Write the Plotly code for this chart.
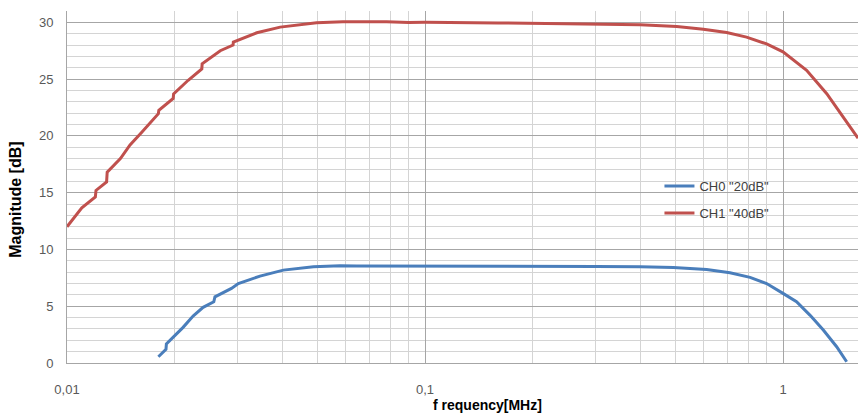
import plotly.graph_objects as go

# ---- data ----
freq_ch0 = [0.0180, 0.0189, 0.01895, 0.0200, 0.0211, 0.0225, 0.0240, 0.0257, 0.0259, 0.0288,
            0.0301, 0.0346, 0.0402, 0.0488, 0.0579, 0.0644, 0.0999, 0.1001, 0.200, 0.300,
            0.399, 0.494, 0.612, 0.711, 0.809, 0.900, 1.000, 1.091, 1.189, 1.296, 1.412, 1.506]
mag_ch0 = [0.55, 1.20, 1.67, 2.37, 3.14, 4.13, 4.90, 5.39, 5.83, 6.57,
           7.00, 7.65, 8.18, 8.47, 8.56, 8.55, 8.55, 8.50, 8.50, 8.50,
           8.47, 8.42, 8.24, 7.94, 7.54, 7.00, 6.13, 5.39, 4.22, 2.90, 1.43, 0.11]

freq_ch1 = [0.0100, 0.0110, 0.0120, 0.01205, 0.0129, 0.01295, 0.0141, 0.0150, 0.0162, 0.0171,
            0.0180, 0.01805, 0.0198, 0.01985, 0.0218, 0.0238, 0.02385, 0.0268, 0.0291, 0.02915,
            0.0339, 0.0394, 0.0448, 0.0498, 0.0590, 0.0781, 0.0900, 0.100, 0.160, 0.300,
            0.399, 0.505, 0.599, 0.696, 0.791, 0.900, 1.000, 1.164, 1.325, 1.473, 1.607, 1.62]
mag_ch1 = [12.00, 13.66, 14.63, 15.20, 15.95, 16.80, 18.00, 19.20, 20.34, 21.20,
           21.96, 22.25, 23.30, 23.70, 24.90, 25.90, 26.35, 27.50, 28.00, 28.26,
           29.08, 29.58, 29.80, 29.96, 30.05, 30.05, 29.98, 30.00, 29.95, 29.88,
           29.80, 29.64, 29.40, 29.10, 28.70, 28.10, 27.40, 25.77, 23.72, 21.66, 19.90, 19.80]

series_names = ['CH0 "20dB"', 'CH1 "40dB"']

x_tick_vals = [0.01, 0.1, 1]
x_tick_text = ["0,01", "0,1", "1"]
x_minor_vals = [m * d for d in (0.01, 0.1, 1) for m in range(2, 10)]
y_tick_vals = [0, 5, 10, 15, 20, 25, 30]

FONT = "Liberation Sans, Arial, sans-serif"

fig = go.Figure()
fig.add_trace(go.Scatter(x=freq_ch0, y=mag_ch0, mode="lines", name=series_names[0],
                         legendgroup="a", line=dict(color="#4a7ebb", width=3)))
fig.add_trace(go.Scatter(x=freq_ch1, y=mag_ch1, mode="lines", name=series_names[1],
                         legendgroup="b", line=dict(color="#c0504d", width=3)))

fig.update_layout(
    width=858, height=413,
    margin=dict(l=67, r=0, t=11, b=50, autoexpand=False),
    paper_bgcolor="white", plot_bgcolor="white",
    font=dict(family=FONT, size=13, color="#595959"),
    showlegend=True,
    legend=dict(x=0.749, y=0.545, xanchor="left", yanchor="top",
                bgcolor="rgba(0,0,0,0)", traceorder="grouped", tracegroupgap=7,
                font=dict(family=FONT, size=13, color="#404040")),
    xaxis=dict(type="log", range=[-2, 0.2095], automargin=False,
               tickvals=x_tick_vals, ticktext=x_tick_text,
               showgrid=True, gridcolor="#a6a6a6", gridwidth=1,
               ticks="", ticklabelstandoff=14,
               showline=True, linecolor="#a6a6a6", linewidth=1,
               zeroline=False,
               minor=dict(tickvals=x_minor_vals, showgrid=True, gridcolor="#d4d4d4", gridwidth=1, ticks="")),
    yaxis=dict(range=[0, 31], tickvals=y_tick_vals, automargin=False,
               showgrid=True, gridcolor="#a6a6a6", gridwidth=1,
               ticks="", ticklabelstandoff=10,
               showline=True, linecolor="#a6a6a6", linewidth=1,
               zeroline=False,
               minor=dict(dtick=1, showgrid=True, gridcolor="#d4d4d4", gridwidth=1, ticks="")),
    annotations=[
        dict(text="<b>Magnitude [dB]</b>", xref="paper", yref="paper", x=-0.066, y=0.463,
             xanchor="center", yanchor="middle", textangle=-90, showarrow=False,
             font=dict(family=FONT, size=16, color="#000000")),
        dict(text="<b>f requency[MHz]</b>", xref="paper", yref="paper", x=0.531, y=-0.119,
             xanchor="center", yanchor="middle", showarrow=False,
             font=dict(family=FONT, size=14, color="#000000")),
    ],
)

fig.write_html("out.html", config={"displayModeBar": False},
               post_script="document.body.style.margin='0';document.body.style.overflow='hidden';")
